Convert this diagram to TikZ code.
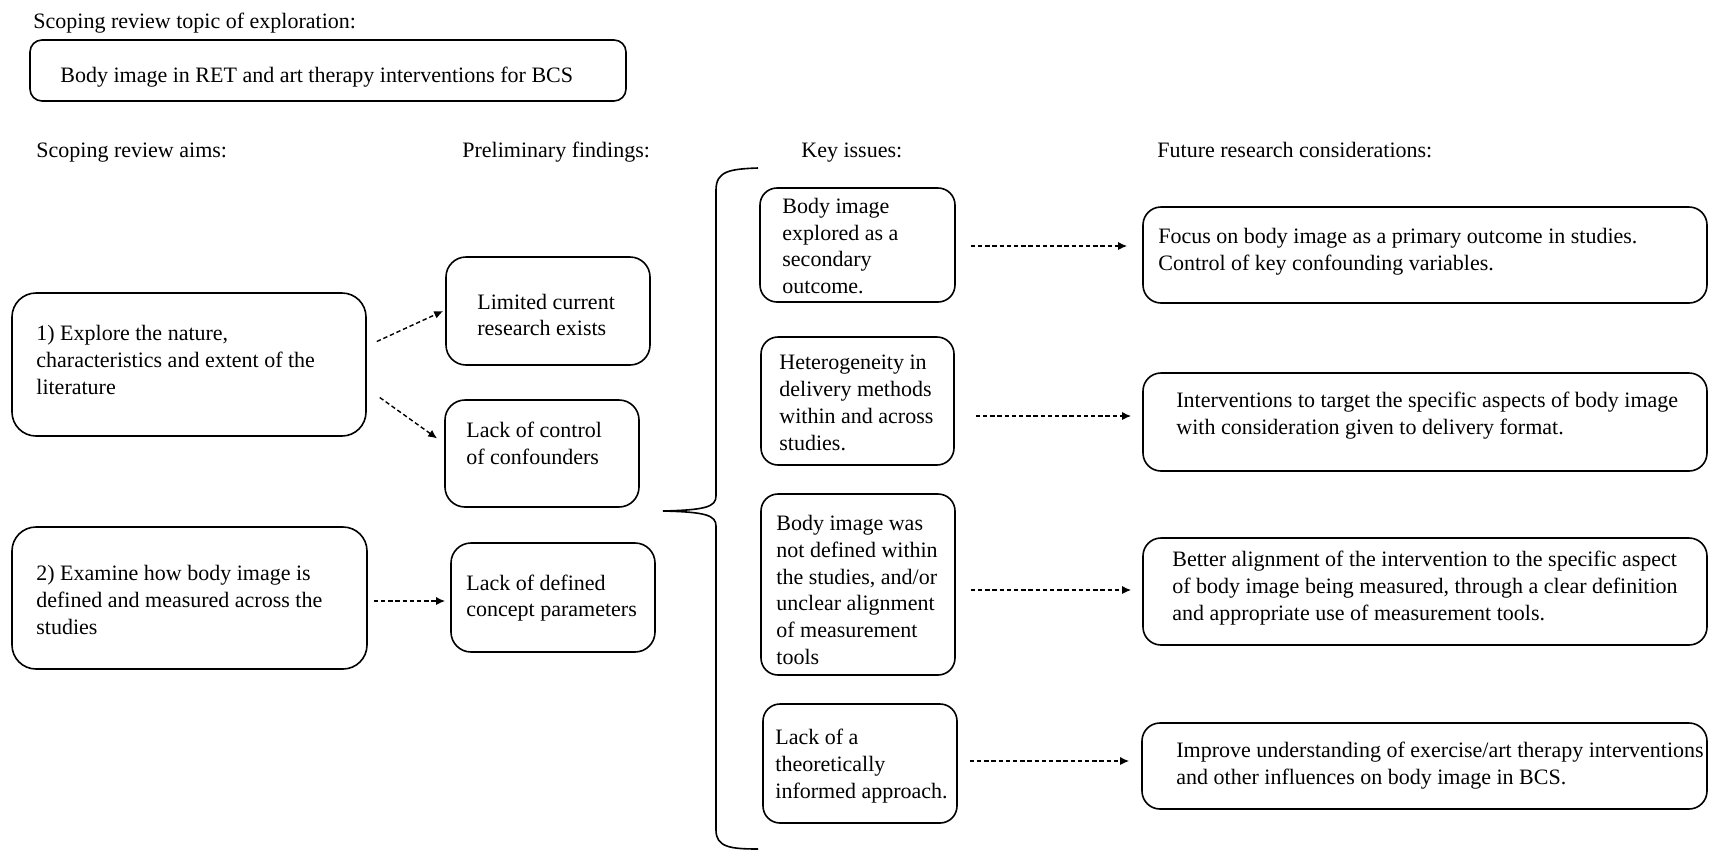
\documentclass[tikz,border=0pt]{standalone}
\usepackage{fontspec}
\setmainfont{Liberation Serif}
\usetikzlibrary{calc,arrows.meta}
\begin{document}
\begin{tikzpicture}[x=0.5pt,y=-0.5pt,
  box/.style={draw, line width=0.8pt, inner sep=0pt},
  txt/.style={inner sep=0pt, align=left, anchor=west, font=\fontsize{11}{13.4}\selectfont},
  hd/.style={inner sep=0pt, anchor=base west, font=\fontsize{11}{13.4}\selectfont},
  arr/.style={line width=0.7pt, dash pattern=on 2.2pt off 1.4pt, -{Latex[length=4.5pt,width=4pt]}},
  brace/.style={line width=0.8pt}
]
\useasboundingbox (0,0) rectangle (1709,852);

% headers
\node[hd] (h0) at (33,28) {Scoping review topic of exploration:};
\node[hd] (h1) at (36,157) {Scoping review aims:};
\node[hd] (h2) at (462,157) {Preliminary findings:};
\node[hd] (h3) at (801,157) {Key issues:};
\node[hd] (h4) at (1157,157) {Future research considerations:};

% topic
\node[box, rounded corners=6pt, minimum width=298pt, minimum height=30.5pt] (topic) at (328,70.5) {};
\node[hd] (topict) at (60,82) {Body image in RET and art therapy interventions for BCS};

% aims
\node[box, rounded corners=12pt, minimum width=177pt, minimum height=71.5pt] (aim1) at (189,364.5) {};
\node[txt] (aim1t) at (36,360) {1) Explore the nature,\\characteristics and extent of the\\literature};
\node[box, rounded corners=12pt, minimum width=177.5pt, minimum height=71pt] (aim2) at (189.5,598) {};
\node[txt] (aim2t) at (36,600) {2) Examine how body image is\\defined and measured across the\\studies};

% findings
\node[box, rounded corners=10pt, minimum width=102pt, minimum height=54pt] (f1) at (548,311) {};
\node[txt] (f1t) at (477,315) {Limited current\\research exists};
\node[box, rounded corners=10pt, minimum width=97pt, minimum height=53.5pt] (f2) at (542,453.5) {};
\node[txt] (f2t) at (466,443) {Lack of control\\of confounders};
\node[box, rounded corners=10pt, minimum width=102pt, minimum height=54.5pt] (f3) at (553,597.5) {};
\node[txt] (f3t) at (466,598) {Lack of defined\\concept parameters};

% key issues
\node[box, rounded corners=8.5pt, minimum width=97.5pt, minimum height=57pt] (k1) at (857.5,245) {};
\node[txt] (k1t) at (782,246) {Body image\\explored as a\\secondary\\outcome.};
\node[box, rounded corners=8.5pt, minimum width=96.5pt, minimum height=64pt] (k2) at (857.5,401) {};
\node[txt] (k2t) at (779,403) {Heterogeneity in\\delivery methods\\within and across\\studies.};
\node[box, rounded corners=8.5pt, minimum width=97pt, minimum height=90.5pt] (k3) at (858,584.5) {};
\node[txt] (k3t) at (776,590) {Body image was\\not defined within\\the studies, and/or\\unclear alignment\\of measurement\\tools};
\node[box, rounded corners=8.5pt, minimum width=97pt, minimum height=59.5pt] (k4) at (860,763.5) {};
\node[txt] (k4t) at (775,766) {Lack of a\\theoretically\\informed approach.};

% future
\node[box, rounded corners=9pt, minimum width=282pt, minimum height=48pt] (r1) at (1425,255) {};
\node[txt] (r1t) at (1158,252) {Focus on body image as a primary outcome in studies.\\Control of key confounding variables.};
\node[box, rounded corners=9pt, minimum width=282pt, minimum height=49pt] (r2) at (1425,422) {};
\node[txt] (r2t) at (1176,416) {Interventions to target the specific aspects of body image\\with consideration given to delivery format.};
\node[box, rounded corners=9pt, minimum width=282pt, minimum height=53.5pt] (r3) at (1425,591.5) {};
\node[txt] (r3t) at (1172,588) {Better alignment of the intervention to the specific aspect\\of body image being measured, through a clear definition\\and appropriate use of measurement tools.};
\node[box, rounded corners=9pt, minimum width=282.5pt, minimum height=43pt] (r4) at (1424.5,766) {};
\node[txt] (r4t) at (1176,766) {Improve understanding of exercise/art therapy interventions\\and other influences on body image in BCS.};

% arrows aims -> findings
\draw[arr] ($(aim1.east)+(10,-23)$) -- ($(f1.west)+(-2,0)$);
\draw[arr] ($(aim1.east)+(13,33)$) -- ($(f2.west)+(-7,-15)$);
\draw[arr] ($(aim2.east)+(6,3)$) -- ($(f3.west)+(-5,3.5)$);

% arrows key -> future
\draw[arr] ($(k1.east)+(15,1)$) -- ($(r1.west)+(-15,-9)$);
\draw[arr] ($(k2.east)+(21,15)$) -- ($(r2.west)+(-11,-6)$);
\draw[arr] ($(k3.east)+(15,5.5)$) -- ($(r3.west)+(-11,-1.5)$);
\draw[arr] ($(k4.east)+(12,-2.5)$) -- ($(r4.west)+(-12,-5)$);

% brace
\draw[brace] (758,168) .. controls (730,169) and (716,171) .. (716,190)
  -- (716,496) .. controls (716,507) and (705,510) .. (663,511)
  .. controls (705,512) and (716,515) .. (716,526)
  -- (716,830) .. controls (716,847) and (730,849) .. (758,849);
\end{tikzpicture}
\end{document}
